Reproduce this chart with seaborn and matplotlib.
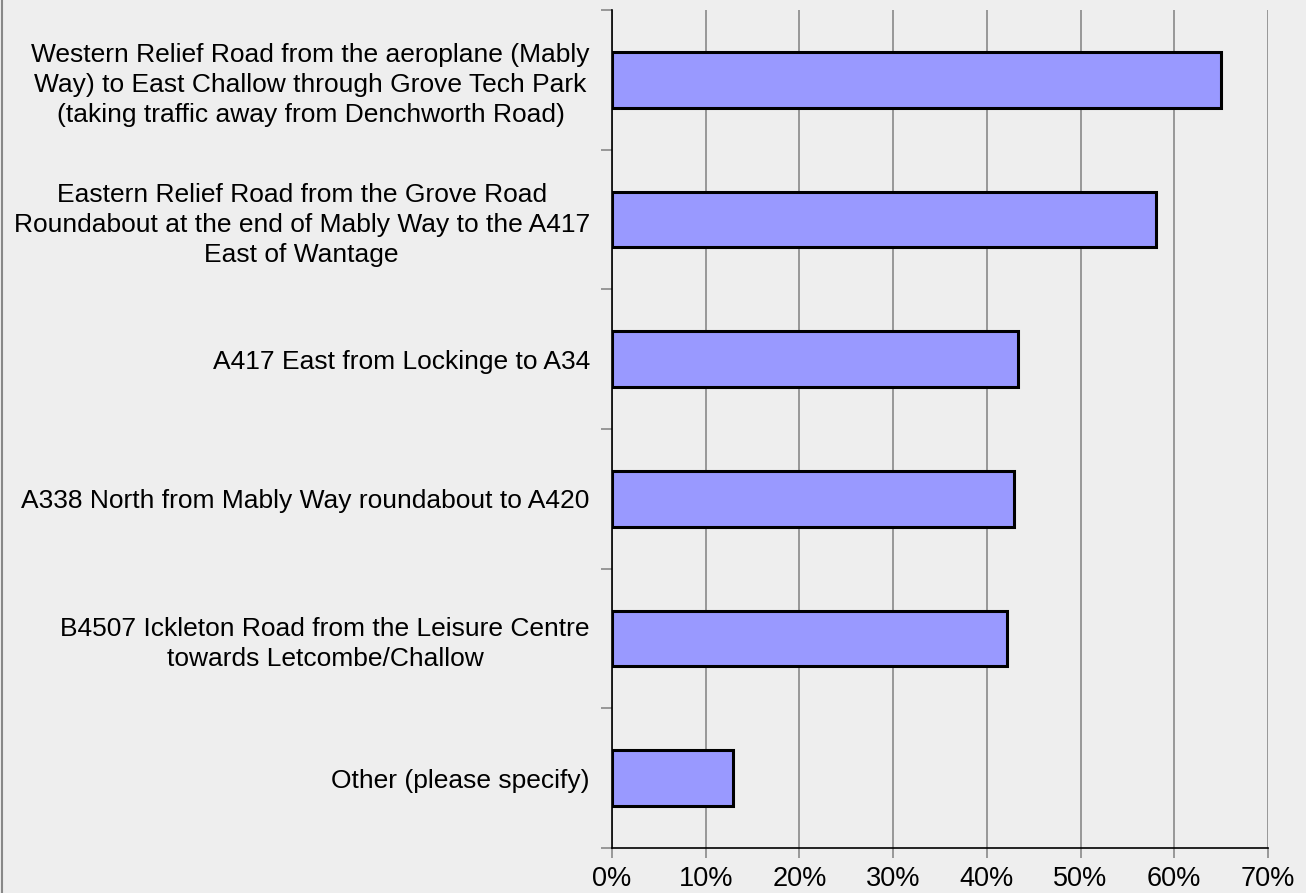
import matplotlib
matplotlib.use("Agg")
import matplotlib.pyplot as plt
import seaborn as sns
import pandas as pd
import numpy as np
from matplotlib.ticker import FixedLocator, PercentFormatter
from matplotlib.lines import Line2D

categories = [
    "Western Relief Road from the aeroplane (Mably\nWay) to East Challow through Grove Tech Park\n(taking traffic away from Denchworth Road)",
    "Eastern Relief Road from the Grove Road\nRoundabout at the end of Mably Way to the A417\nEast of Wantage",
    "A417 East from Lockinge to A34",
    "A338 North from Mably Way roundabout to A420",
    "B4507 Ickleton Road from the Leisure Centre\ntowards Letcombe/Challow",
    "Other (please specify)",
]
values = [65.0, 58.0, 43.3, 42.9, 42.2, 12.9]
x_ticks = [0, 10, 20, 30, 40, 50, 60, 70]

df = pd.DataFrame({"category": categories, "value": values})

sns.set_theme(style="white")
plt.rcParams["font.family"] = ["Liberation Sans", "DejaVu Sans"]

bg = "#EEEEEE"
fig = plt.figure(figsize=(13.06, 8.93), dpi=100, facecolor=bg)
ax = fig.add_axes([612 / 1306, 1 - 848 / 893, (1268 - 612) / 1306, (848 - 10) / 893])
ax.set_facecolor(bg)

sns.barplot(data=df, x="value", y="category", orient="h", color="#9999FF",
            saturation=1, edgecolor="black", linewidth=2.2, width=0.4, ax=ax, zorder=3)

ax.set_xlim(0, 70)
ax.set_ylim(len(categories) - 0.5, -0.5)
ax.xaxis.set_major_locator(FixedLocator(x_ticks))
ax.xaxis.set_major_formatter(PercentFormatter(decimals=0))
ax.grid(axis="x", color="#888888", linewidth=1.2, zorder=0)
ax.grid(axis="y", visible=False)
ax.set_axisbelow(True)

ax.set_xlabel("")
ax.set_ylabel("")

for s in ["top", "right"]:
    ax.spines[s].set_visible(False)
for s in ["left", "bottom"]:
    ax.spines[s].set_color("black")
    ax.spines[s].set_linewidth(1.2)
    ax.spines[s].set_zorder(4)

ax.tick_params(axis="x", which="major", length=7, width=1.2, color="#888888",
               labelsize=19.5, labelcolor="black", pad=6, bottom=True)
ax.tick_params(axis="y", which="major", length=0, labelsize=19, labelcolor="black", pad=16)
ax.yaxis.set_minor_locator(FixedLocator(np.arange(-0.5, len(categories) + 0.5, 1)))
ax.tick_params(axis="y", which="minor", length=8, width=1.2, color="#888888", left=True)

for lbl in ax.get_yticklabels():
    lbl.set_multialignment("center")
    lbl.set_linespacing(1.32)

fig.lines.append(Line2D([0.0015, 0.0015], [0, 1], transform=fig.transFigure,
                        color="#888888", linewidth=1.5))

fig.savefig("out.png", dpi=100, facecolor=bg)
